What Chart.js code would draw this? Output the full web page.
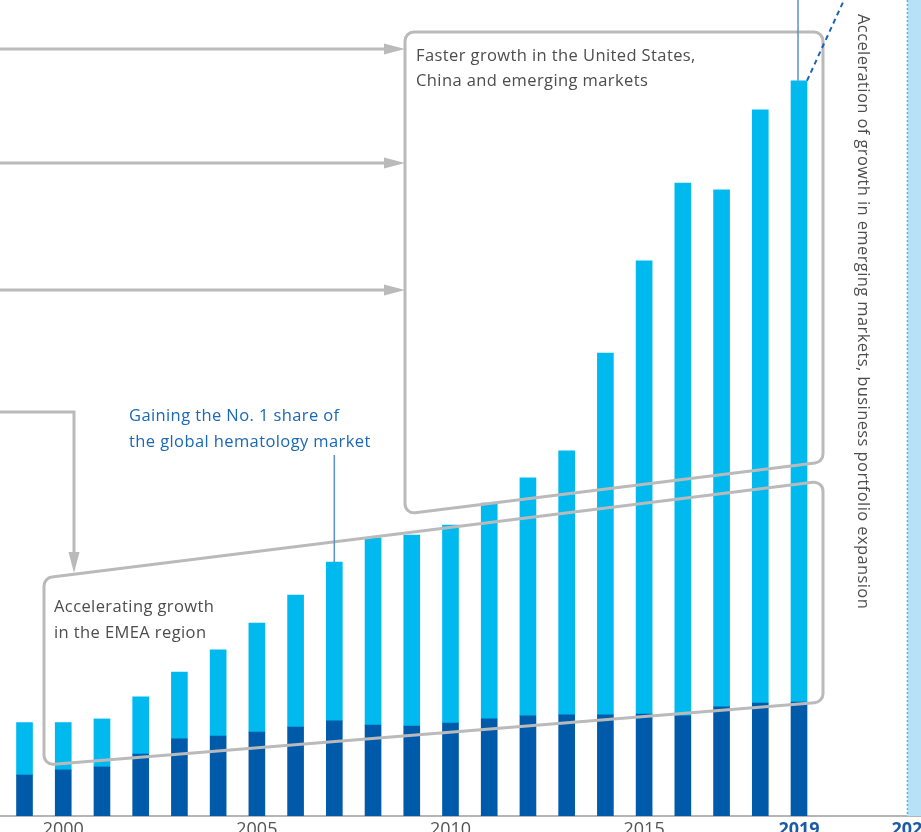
<!DOCTYPE html>
<html>
<head>
<meta charset="utf-8">
<script src="https://cdn.jsdelivr.net/npm/chart.js@4.4.1/dist/chart.umd.min.js"></script>
<style>
    html, body { margin: 0; padding: 0; background: #fff; overflow: hidden; }
    #wrap { width: 921px; height: 832px; position: relative; }
</style>
</head>
<body>
<div id="wrap"><canvas id="salesChart"></canvas></div>
<script>
// ********
// * Data *
// ********

const years = [1999, 2000, 2001, 2002, 2003, 2004, 2005, 2006, 2007, 2008, 2009,
    2010, 2011, 2012, 2013, 2014, 2015, 2016, 2017, 2018, 2019];

// lower (dark) part of each bar
const japanSales = [16.8, 18.9, 20.1, 25.4, 31.6, 32.8, 34.4, 36.5, 39.0, 37.3, 36.9,
    38.1, 39.8, 41.1, 41.5, 41.5, 41.8, 41.1, 44.8, 46.3, 46.7];

// upper (light) part of each bar
const overseasSales = [21.5, 19.4, 19.7, 23.4, 27.4, 35.3, 44.7, 54.1, 65.1, 76.7, 78.3,
    81.2, 88.5, 97.5, 108.2, 148.3, 185.8, 218.4, 211.9, 243.2, 254.7];

const tickYears = [2000, 2005, 2010, 2015, 2019, 2021.92];
const tickLabels = ['2000', '2005', '2010', '2015', '2019', '2025'];

const FONT = '"Open Sans", sans-serif';
const GREY_LINE = '#bababa';
const TEXT_GREY = '#4d4d4d';

// *************************
// * Annotations (plugin)  *
// *************************

function roundedPath(ctx, pts, r) {
    const n = pts.length;
    const mid = [(pts[0][0] + pts[1][0]) / 2, (pts[0][1] + pts[1][1]) / 2];
    ctx.beginPath();
    ctx.moveTo(mid[0], mid[1]);
    for (let i = 1; i <= n; i++) {
        const p = pts[i % n];
        const q = pts[(i + 1) % n];
        ctx.arcTo(p[0], p[1], q[0], q[1], r);
    }
    ctx.closePath();
    ctx.stroke();
}

function arrowRight(ctx, y, x0, tip) {
    ctx.beginPath();
    ctx.moveTo(x0, y);
    ctx.lineTo(tip - 16, y);
    ctx.stroke();
    ctx.beginPath();
    ctx.moveTo(tip, y);
    ctx.lineTo(tip - 21, y - 5.5);
    ctx.lineTo(tip - 21, y + 5.5);
    ctx.closePath();
    ctx.fill();
}

const annotationPlugin = {
    id: 'annotations',
    beforeDatasetsDraw(chart) {
        const {ctx, chartArea, scales: {x}} = chart;
        const bandLeft = x.getPixelForValue(2021.8);
        ctx.save();
        ctx.fillStyle = '#b6e1f7';
        ctx.fillRect(bandLeft, chartArea.top, chartArea.right - bandLeft, chartArea.bottom - chartArea.top);
        ctx.strokeStyle = '#3dbdf0';
        ctx.lineWidth = 1.5;
        ctx.setLineDash([2, 2]);
        ctx.beginPath();
        ctx.moveTo(bandLeft, chartArea.top);
        ctx.lineTo(bandLeft, chartArea.bottom);
        ctx.stroke();
        ctx.restore();
    },
    afterDatasetsDraw(chart) {
        const {ctx, scales: {x, y}} = chart;
        ctx.save();

        // grey frames
        ctx.strokeStyle = GREY_LINE;
        ctx.fillStyle = GREY_LINE;
        ctx.lineWidth = 3;
        roundedPath(ctx, [[405, 32], [823, 32], [823, 462], [405, 514]], 9);
        roundedPath(ctx, [[44, 578], [823, 481], [823, 702], [44, 765]], 9);

        // arrows coming from the left
        arrowRight(ctx, 49, 0, 405);
        arrowRight(ctx, 163, 0, 405);
        arrowRight(ctx, 290, 0, 405);

        ctx.beginPath();
        ctx.moveTo(0, 412);
        ctx.lineTo(74, 412);
        ctx.lineTo(74, 556);
        ctx.stroke();
        ctx.beginPath();
        ctx.moveTo(74, 573);
        ctx.lineTo(68.5, 552);
        ctx.lineTo(79.5, 552);
        ctx.closePath();
        ctx.fill();

        // leader lines to bar tops
        const top2007 = y.getPixelForValue(japanSales[8] + overseasSales[8]);
        const top2019 = y.getPixelForValue(japanSales[20] + overseasSales[20]);
        const x2007 = x.getPixelForValue(2007);
        const x2019 = x.getPixelForValue(2019);
        ctx.lineWidth = 1.5;
        ctx.strokeStyle = '#5a8fd0';
        ctx.beginPath();
        ctx.moveTo(x2007, 455);
        ctx.lineTo(x2007, top2007);
        ctx.moveTo(x2019 - 1, 0);
        ctx.lineTo(x2019 - 1, top2019);
        ctx.stroke();

        ctx.strokeStyle = '#1f62b6';
        ctx.lineWidth = 2;
        ctx.setLineDash([5, 4]);
        ctx.beginPath();
        ctx.moveTo(x2019 + 8, top2019);
        ctx.lineTo(844, 0);
        ctx.stroke();
        ctx.setLineDash([]);

        // texts
        ctx.font = '16.5px ' + FONT;
        ctx.letterSpacing = '0.4px';
        ctx.textBaseline = 'alphabetic';
        ctx.fillStyle = TEXT_GREY;
        ctx.fillText('Faster growth in the United States,', 416, 61);
        ctx.fillText('China and emerging markets', 416, 86);
        ctx.fillText('Accelerating growth', 54, 612);
        ctx.fillText('in the EMEA region', 54, 638);

        ctx.fillStyle = '#1b68b5';
        ctx.fillText('Gaining the No. 1 share of', 129, 421);
        ctx.fillText('the global hematology market', 129, 447);

        ctx.save();
        ctx.translate(863, 14);
        ctx.rotate(Math.PI / 2);
        ctx.fillStyle = TEXT_GREY;
        ctx.textBaseline = 'middle';
        ctx.fillText('Acceleration of growth in emerging markets, business portfolio expansion', 0, 0);
        ctx.restore();

        ctx.restore();
    }
};

// *********
// * Chart *
// *********

let salesChart;

function createSalesChart() {
    const config = {
        type: 'bar',
        data: {
            datasets: [{
                label: 'Japan',
                data: years.map((yr, i) => ({x: yr, y: japanSales[i]})),
                backgroundColor: '#005aaa',
                stack: 'sales'
            }, {
                label: 'Overseas',
                data: years.map((yr, i) => ({x: yr, y: overseasSales[i]})),
                backgroundColor: '#00b9ef',
                stack: 'sales'
            }]
        },
        options: {
            responsive: true,
            maintainAspectRatio: false,
            animation: false,
            barThickness: 16,
            layout: {padding: 0},
            plugins: {
                legend: {display: false},
                tooltip: {enabled: false}
            },
            scales: {
                x: {
                    type: 'linear',
                    offset: false,
                    min: 1998.367,
                    max: 2022.15,
                    grid: {display: false, drawTicks: false, offset: false},
                    border: {display: true, color: '#b5b5b5', width: 2},
                    afterBuildTicks: scale => {
                        scale.ticks = tickYears.map(v => ({value: v}));
                    },
                    afterFit: scale => {
                        scale.height = 16;
                        scale.paddingLeft = 0;
                        scale.paddingRight = 0;
                    },
                    ticks: {
                        autoSkip: false,
                        maxRotation: 0,
                        padding: 3,
                        callback: (value, index) => tickLabels[index],
                        color: c => c.index >= 4 ? '#1d5aa6' : '#555555',
                        font: c => ({family: FONT, size: 18, weight: c.index >= 4 ? 'bold' : 'normal'})
                    }
                },
                y: {
                    display: false,
                    stacked: true,
                    min: 0,
                    max: 334.5
                }
            }
        },
        plugins: [annotationPlugin]
    };

    if (salesChart) {
        salesChart.destroy();
    }
    salesChart = new Chart(document.getElementById('salesChart'), config);
}

createSalesChart();
</script>
</body>
</html>
